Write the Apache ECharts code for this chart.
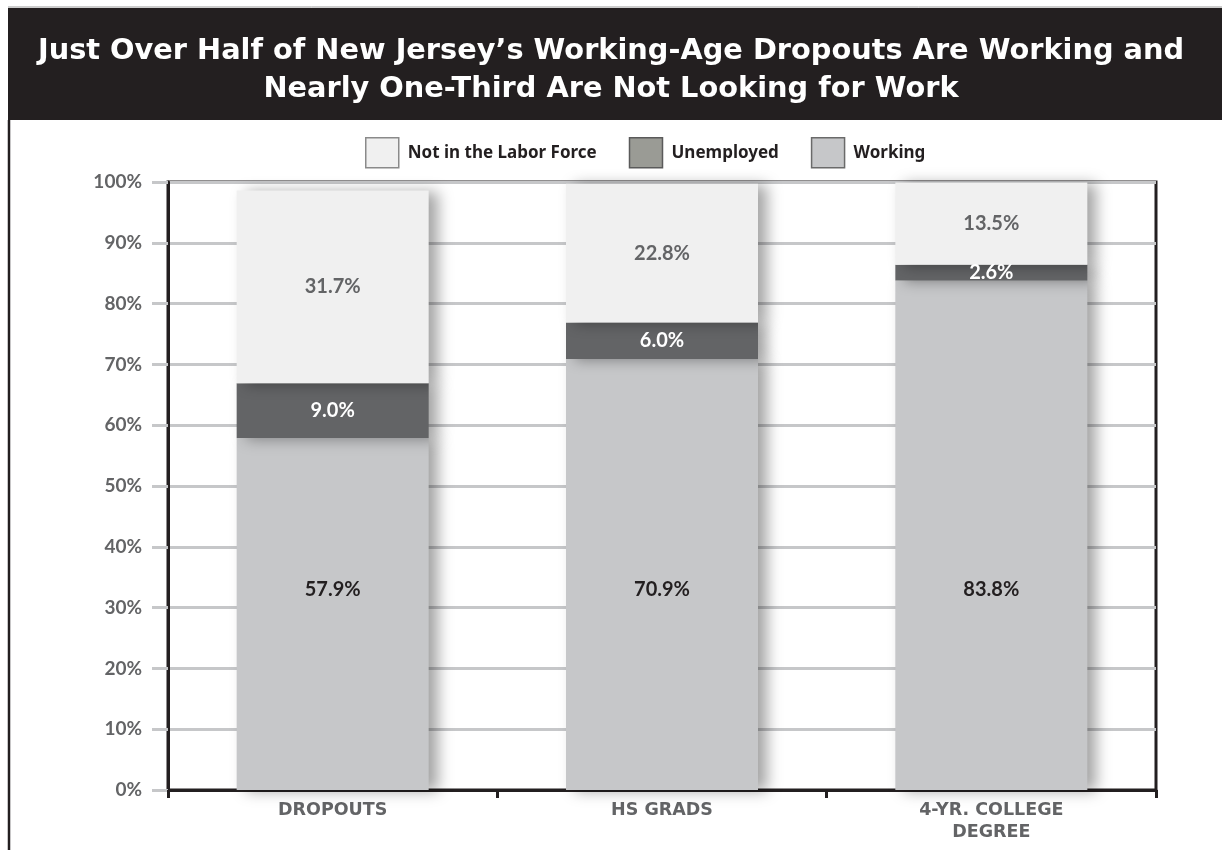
<!DOCTYPE html>
<html>
<head>
<meta charset="utf-8">
<script src="https://cdn.jsdelivr.net/npm/echarts@6/dist/echarts.min.js"></script>
<style>
  html, body { margin: 0; padding: 0; background: #ffffff; }
  #chart { width: 1222px; height: 850px; }
</style>
</head>
<body>
<div id="chart"></div>
<script>
// Labor-force status of New Jersey's working-age population by education
const categories = ['DROPOUTS', 'HS GRADS', '4-YR. COLLEGE\nDEGREE'];
const working = [57.9, 70.9, 83.8];
const unemployed = [9.0, 6.0, 2.6];
const notInLaborForce = [31.7, 22.8, 13.5];
const yTicks = [0, 10, 20, 30, 40, 50, 60, 70, 80, 90, 100];

const FONT = 'Lato, "Open Sans", sans-serif';
const WIDE = '"DejaVu Sans", "Open Sans", sans-serif';
const DARK = '#231f20';
const GREY_TEXT = '#636466';

const chart = echarts.init(document.getElementById('chart'), null, { renderer: 'canvas' });

const barShadow = {
  shadowBlur: 14,
  shadowColor: 'rgba(0,0,0,0.36)',
  shadowOffsetX: 9,
  shadowOffsetY: 1
};

const noShadow = { shadowBlur: 0, shadowOffsetX: 0, shadowOffsetY: 0, shadowColor: 'transparent' };

const pctLabel = v => v.value.toFixed(1) + '%';

const option = {
  backgroundColor: '#ffffff',
  animation: false,
  graphic: [
    // header band
    { type: 'rect', shape: { x: 8, y: 8, width: 1214, height: 112 }, style: { fill: DARK }, z: -10 },
    { type: 'line', shape: { x1: 8, y1: 7, x2: 1222, y2: 7 }, style: { stroke: '#9a9a9a', lineWidth: 1 }, z: -10 },
    // left frame edge
    { type: 'line', shape: { x1: 9, y1: 120, x2: 9, y2: 850 }, style: { stroke: DARK, lineWidth: 2.5 }, z: -10 }
  ],
  title: {
    text: 'Just Over Half of New Jersey\u2019s Working-Age Dropouts Are Working and\nNearly One-Third Are Not Looking for Work',
    left: 'center',
    top: 28,
    textStyle: {
      color: '#ffffff',
      fontFamily: WIDE,
      fontWeight: 'bold',
      fontSize: 28.8,
      lineHeight: 38
    }
  },
  legend: {
    left: 365,
    top: 137,
    padding: 0,
    icon: 'rect',
    itemWidth: 33,
    itemHeight: 30,
    itemGap: 32,
    selectedMode: false,
    textStyle: {
      color: DARK,
      fontFamily: '"Noto Sans", sans-serif',
      fontWeight: 'bold',
      fontSize: 17,
      padding: [0, 0, 0, 4]
    },
    data: [
      { name: 'Not in the Labor Force', itemStyle: Object.assign({ color: '#f0f0f0', borderColor: '#8a8a8a', borderWidth: 1.5 }, noShadow) },
      { name: 'Unemployed', itemStyle: Object.assign({ color: '#9a9b95', borderColor: '#5a5a5a', borderWidth: 1.5 }, noShadow) },
      { name: 'Working', itemStyle: Object.assign({ color: '#c6c7c9', borderColor: '#6a6a6a', borderWidth: 1.5 }, noShadow) }
    ]
  },
  grid: {
    left: 168,
    right: 66,
    top: 182,
    bottom: 60,
    show: true,
    borderColor: DARK,
    borderWidth: 3,
    backgroundColor: 'transparent'
  },
  xAxis: {
    type: 'category',
    data: categories,
    axisLine: { show: true, lineStyle: { color: DARK, width: 3 } },
    axisTick: { show: true, length: 8, lineStyle: { color: DARK, width: 3 } },
    axisLabel: {
      color: GREY_TEXT,
      fontFamily: WIDE,
      fontWeight: 'bold',
      fontSize: 17.5,
      lineHeight: 22,
      margin: 9
    },
    splitLine: { show: false }
  },
  yAxis: {
    type: 'value',
    min: yTicks[0],
    max: yTicks[yTicks.length - 1],
    interval: 10,
    axisLine: { show: true, lineStyle: { color: DARK, width: 3 } },
    axisTick: { show: true, length: 16, lineStyle: { color: '#c6c7c9', width: 3 } },
    axisLabel: {
      formatter: '{value}%',
      color: GREY_TEXT,
      fontFamily: FONT,
      fontWeight: 'bold',
      fontSize: 19,
      margin: 26
    },
    splitLine: { show: true, lineStyle: { color: '#c6c7c9', width: 3 } }
  },
  series: [
    {
      name: 'Working',
      type: 'bar',
      stack: 'total',
      barWidth: 192,
      data: working,
      itemStyle: Object.assign({ color: '#c6c7c9' }, barShadow),
      label: {
        show: true,
        position: 'insideBottom',
        distance: 190,
        formatter: pctLabel,
        color: DARK,
        fontFamily: FONT,
        fontWeight: 'bold',
        fontSize: 20
      }
    },
    {
      name: 'Unemployed',
      type: 'bar',
      stack: 'total',
      barWidth: 192,
      data: unemployed,
      itemStyle: Object.assign({ color: '#636466' }, barShadow),
      label: {
        show: true,
        position: 'inside',
        formatter: pctLabel,
        color: '#ffffff',
        fontFamily: FONT,
        fontWeight: 'bold',
        fontSize: 20
      }
    },
    {
      name: 'Not in the Labor Force',
      type: 'bar',
      stack: 'total',
      barWidth: 192,
      data: notInLaborForce,
      itemStyle: Object.assign({ color: '#f0f0f0' }, barShadow),
      label: {
        show: true,
        position: 'inside',
        formatter: pctLabel,
        color: GREY_TEXT,
        fontFamily: FONT,
        fontWeight: 'bold',
        fontSize: 20
      }
    }
  ]
};

chart.setOption(option);
</script>
</body>
</html>
